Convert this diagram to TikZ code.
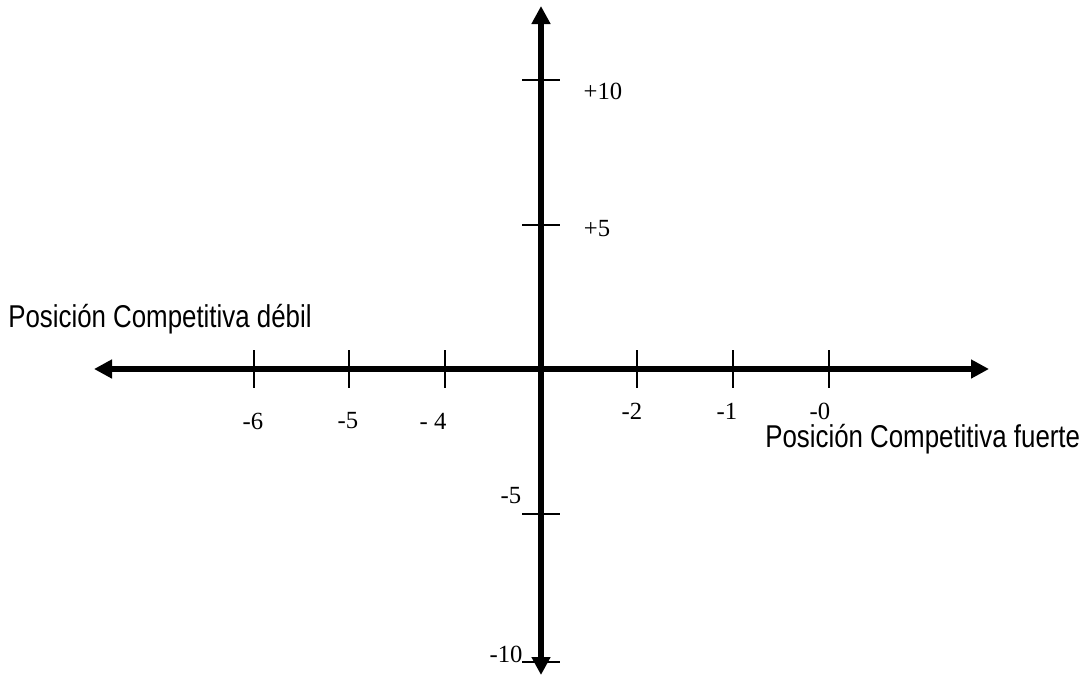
\documentclass[tikz,border=0pt]{standalone}
\usepackage{fontspec}
\setmainfont{Liberation Serif}
\newfontfamily\arialf{Liberation Sans}
\usetikzlibrary{arrows.meta}
\begin{document}
\begin{tikzpicture}[x=0.75pt,y=-0.75pt,
  axis/.style={line width=4.3pt,-{Triangle[length=13.5pt,width=13.5pt]}},
  tickmark/.style={line width=1.2pt},
  num/.style={font=\fontsize{18.5}{20}\selectfont,inner sep=0pt},
  captxt/.style={font=\arialf\fontsize{19.4}{22}\selectfont,inner sep=0pt,anchor=base west,yscale=1.22}]
\useasboundingbox (0,0) rectangle (1089,675);
\coordinate (O) at (541,369);
\coordinate (L) at (94,369);
\coordinate (R) at (989,369);
\coordinate (T) at (541,6);
\coordinate (B) at (541,675);
\draw[axis] (O) -- (L);
\draw[axis] (O) -- (R);
\draw[axis] (O) -- (T);
\draw[axis] (O) -- (B);
\foreach \x in {254,349,445,637,733,829}
  \draw[tickmark] (\x,350) -- (\x,388);
\foreach \y in {80,225,514,662}
  \draw[tickmark] (522,\y) -- (560,\y);
\node[num] (p10) at (603,91) {+10};
\node[num] (p5) at (597,229) {+5};
\node[num] (m5) at (511,496) {-5};
\node[num] (m10) at (506,654) {-10};
\node[num] (h6) at (253,421) {-6};
\node[num] (h5) at (348,421) {-5};
\node[num] (h4) at (433,421) {- 4};
\node[num] (h2) at (632,411) {-2};
\node[num] (h1) at (727,411) {-1};
\node[num] (h0) at (820,411) {-0};
\node[captxt] (weak) at (8,327) {Posición Competitiva débil};
\node[captxt] (strong) at (765,447) {Posición Competitiva fuerte};
\end{tikzpicture}
\end{document}
